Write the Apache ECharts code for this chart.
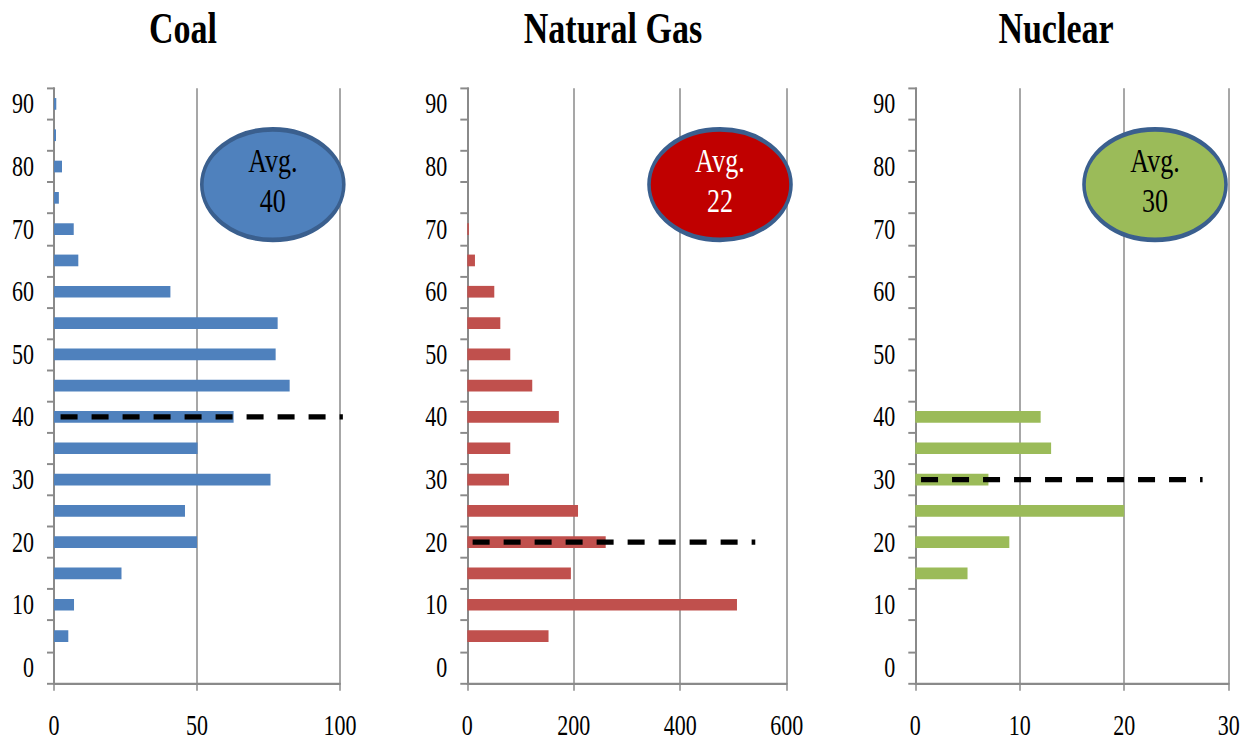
<!DOCTYPE html>
<html>
<head>
<meta charset="utf-8">
<script src="https://cdn.jsdelivr.net/npm/echarts@6/dist/echarts.min.js"></script>
<style>
  html, body { margin: 0; padding: 0; background: #fff; width: 1249px; height: 742px; }
  /* the chart is laid out in a shorter frame and stretched vertically */
  #chart { width: 1249px; height: 571px; transform: scaleY(1.3); transform-origin: 0 0; }
</style>
</head>
<body>
<div id="chart"></div>
<script>
// Plant age bins (years), one bar per 5-year bin
const ageBins = ['0','5','10','15','20','25','30','35','40','45','50','55','60','65','70','75','80','85','90'];

// Capacity in each age bin
const coalCapacity    = [0, 5, 7, 23.6, 50, 45.8, 75.7, 50.2, 62.8, 82.4, 77.5, 78.2, 40.7, 8.5, 6.9, 1.7, 2.8, 0.7, 0.8];
const gasCapacity     = [0, 152.6, 506.6, 194.6, 260, 208, 78.3, 80.7, 172, 122, 80.7, 62, 50.7, 14.4, 3, 0, 0, 0, 0];
const nuclearCapacity = [0, 0, 0, 5, 9, 20, 7, 13, 12, 0, 0, 0, 0, 0, 0, 0, 0, 0, 0];

// Average age per fuel
const avgAges = [40, 22, 30];

// Panel titles and value-axis scales
const panelTitles = ['Coal', 'Natural Gas', 'Nuclear'];
const valueMax  = [100, 600, 30];
const valueStep = [50, 200, 10];

// Extent of each dashed average line along the value axis
const avgLineSpan = [[2.3, 101], [10, 541], [0.55, 27.5]];

const seriesData = [coalCapacity, gasCapacity, nuclearCapacity];
const barColors = ['#4F81BD', '#C0504D', '#9BBB59'];
const badgeFill = ['#4F81BD', '#C00000', '#9BBB59'];
const badgeText = ['#000', '#fff', '#000'];

// Layout of the three panels
const gridLeft  = [54, 467.3, 915.3];
const gridWidth = [286, 319.4, 313.4];
const gridTop = 67.9, gridHeight = 457.5;
const titleX = [183, 613, 1056];
const badgeX = [272.8, 720, 1155];

const serif = '"Liberation Serif", "Times New Roman", serif';
const axisGray = '#8a8a8a';

const grids = [], xAxes = [], yAxes = [], series = [], graphics = [];

for (let i = 0; i < 3; i++) {
  grids.push({ left: gridLeft[i], width: gridWidth[i], top: gridTop, height: gridHeight, containLabel: false });

  xAxes.push({
    gridIndex: i, type: 'value', min: 0, max: valueMax[i], interval: valueStep[i],
    axisLine: { show: true, lineStyle: { color: axisGray, width: 1.8 } },
    axisTick: { show: true, length: 6, lineStyle: { color: axisGray, width: 1.5 } },
    splitLine: { show: true, lineStyle: { color: axisGray, width: 1.5 } },
    axisLabel: { color: '#000', fontFamily: serif, fontSize: 22, margin: 22 }
  });

  yAxes.push({
    gridIndex: i, type: 'category', data: ageBins, boundaryGap: true,
    axisLine: { show: true, lineStyle: { color: axisGray, width: 2 } },
    axisTick: { show: true, interval: 0, length: 7, lineStyle: { color: axisGray, width: 1.5 } },
    splitLine: { show: false },
    axisLabel: { interval: 1, color: '#000', fontFamily: serif, fontSize: 22, margin: 20 }
  });

  series.push({
    type: 'bar', xAxisIndex: i, yAxisIndex: i,
    data: seriesData[i], barWidth: 9,
    itemStyle: { color: barColors[i] },
    silent: true
  });

  // average line sits on the 5-year bin containing the average age
  const avgBin = String(Math.floor(avgAges[i] / 5) * 5);
  series.push({
    type: 'line', xAxisIndex: i, yAxisIndex: i,
    data: [[avgLineSpan[i][0], avgBin], [avgLineSpan[i][1], avgBin]],
    symbol: 'none', clip: false, silent: true, z: 5,
    lineStyle: { color: '#000', width: 4, type: [17, 14], cap: 'butt' }
  });

  graphics.push({
    type: 'text', x: titleX[i], y: 22, z: 10,
    style: {
      text: panelTitles[i], fill: '#000',
      font: 'bold 34px ' + serif,
      align: 'center', verticalAlign: 'middle',
      textAlign: 'center', textVerticalAlign: 'middle'
    }
  });

  graphics.push({
    type: 'ellipse', z: 10,
    shape: { cx: badgeX[i], cy: 142, rx: 71, ry: 42.5 },
    style: { fill: badgeFill[i], stroke: '#3A5F8E', lineWidth: 3.6 }
  });

  graphics.push({
    type: 'text', x: badgeX[i], y: 139, z: 11,
    style: {
      text: 'Avg.\n' + avgAges[i], fill: badgeText[i],
      font: '26px ' + serif, lineHeight: 31,
      align: 'center', verticalAlign: 'middle',
      textAlign: 'center', textVerticalAlign: 'middle'
    }
  });
}

const chart = echarts.init(document.getElementById('chart'), null, { renderer: 'svg' });
chart.setOption({
  animation: false,
  backgroundColor: '#fff',
  grid: grids,
  xAxis: xAxes,
  yAxis: yAxes,
  series: series,
  graphic: graphics
});
</script>
</body>
</html>
